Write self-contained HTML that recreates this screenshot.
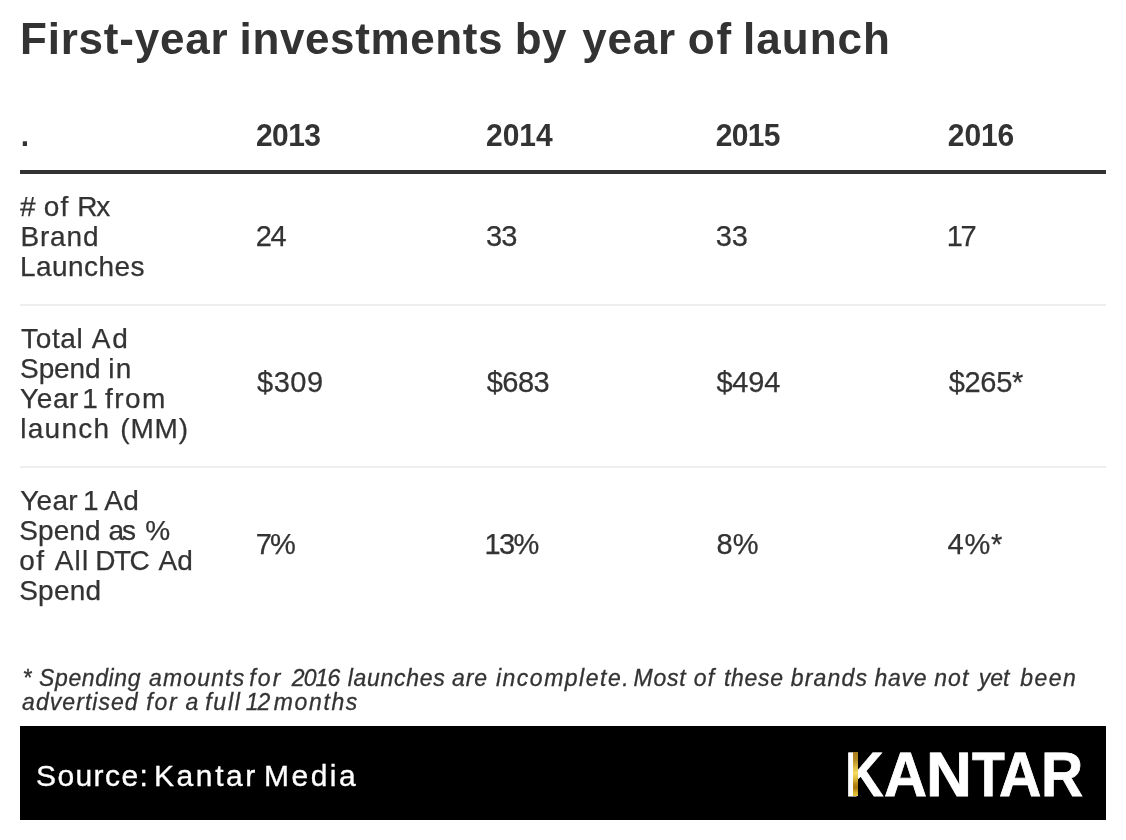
<!DOCTYPE html>
<html lang="en">
<head>
<meta charset="utf-8">
<title>First-year investments by year of launch</title>
<style>
  html, body { margin: 0; padding: 0; background: #fff; }
  body {
    width: 1126px; height: 840px; position: relative; overflow: hidden;
    font-family: "Liberation Sans", sans-serif; color: #333;
  }
  .ln { display: block; position: relative; white-space: nowrap; }
  h1 {
    position: absolute; left: 20px; top: 13px; margin: 0;
    font-size: 44px; line-height: 52px; font-weight: 700; white-space: nowrap;
  }
  table {
    position: absolute; left: 20px; top: 100px; width: 1086px;
    border-collapse: collapse; table-layout: fixed;
    font-size: 29px; line-height: 30px;
  }
  th, td { padding: 0; text-align: left; vertical-align: middle; font-weight: 400; white-space: nowrap; }
  thead th { height: 70px; font-weight: 700; font-size: 30px; border-bottom: 4px solid #333; vertical-align: top; }
  thead th .ln { top: 21px; transform: scaleY(1.07); transform-origin: 0 29px; }
  tbody td { border-bottom: 2px solid #eeeeee; }
  tbody tr:last-child td { border-bottom: 0; }
  tbody tr.r1 td { height: 130px; }
  tbody tr.r2 td { height: 160px; }
  tbody tr.r3 td { height: 160px; }
  tbody td > div { position: relative; top: -3px; -webkit-text-stroke: 0.25px #333; }
  tbody tr.r2 td + td > div, tbody tr.r3 td + td > div { top: -4px; }
  tbody td:first-child > div { font-size: 28px; top: -2px; }
  .c0 { width: 235px; }
  .c1 { width: 230px; }
  .c2 { width: 230px; }
  .c3 { width: 232px; }
  .note {
    position: absolute; left: 20px; top: 666px; width: 1086px; margin: 0;
    font-size: 23px; line-height: 24px; font-style: italic; white-space: nowrap; -webkit-text-stroke: 0.3px #333;
  }
  .footer {
    position: absolute; left: 20px; top: 726px; width: 1086px; height: 94px; background: #000; color: #fff;
  }
  .source { position: absolute; left: 17px; top: 33px; font-size: 30px; line-height: 34px; white-space: nowrap; -webkit-text-stroke: 0.35px #fff; }
  .logo { position: absolute; left: 0; top: 17.5px; width: 1086px; height: 62.8px; font-weight: 700; font-size: 62.8px; line-height: 62.8px; white-space: nowrap; }
  .logo b { position: relative; display: inline-block; width: 50px; height: 62.8px; vertical-align: top; font-weight: 700; transform-origin: 0 10px; text-rendering: geometricPrecision; -webkit-text-stroke: 0.8px #fff; }
  .logo .gold { position: absolute; left: 833.2px; top: 8.5px; width: 4.9px; height: 44px;
    background: linear-gradient(to bottom, #a77c1d 0%, #b78d25 18%, #e4c54a 38%, #f5dd62 48%, #e0bd3f 60%, #b38414 74%, #a9790f 82%, #d9b430 93%, #e6c63c 100%); }
</style>
</head>
<body>
<h1><span class="ln" style="left:0.0px"><span style="letter-spacing:0.78px">First-year</span> <span style="letter-spacing:0.62px;margin-left:-0.99px">investments</span> <span style="letter-spacing:0.54px;margin-left:-0.75px">by</span> <span style="letter-spacing:0.78px;margin-left:2.98px">year</span> <span style="letter-spacing:1.78px;margin-left:-0.49px">of</span> <span style="letter-spacing:1.02px;margin-left:-2.00px">launch</span></span></h1>
<table>
  <colgroup><col class="c0"><col class="c1"><col class="c2"><col class="c3"><col></colgroup>
  <thead>
    <tr><th><span class="ln" style="left:0.8px"><span style="letter-spacing:0.00px">.</span></span></th><th><span class="ln" style="left:1.0px"><span style="letter-spacing:-0.58px">2013</span></span></th><th><span class="ln" style="left:1.0px"><span style="letter-spacing:-0.03px">2014</span></span></th><th><span class="ln" style="left:0.8px"><span style="letter-spacing:-0.66px">2015</span></span></th><th><span class="ln" style="left:0.8px"><span style="letter-spacing:-0.10px">2016</span></span></th></tr>
  </thead>
  <tbody>
    <tr class="r1">
      <td><div><span class="ln" style="left:0.0px"><span style="letter-spacing:0.27px">#</span> <span style="letter-spacing:1.27px">of</span> <span style="letter-spacing:-1.17px">Rx</span></span><span class="ln" style="left:0.4px"><span style="letter-spacing:0.86px">Brand</span></span><span class="ln" style="left:0.0px"><span style="letter-spacing:0.44px">Launches</span></span></div></td>
      <td><div><span class="ln" style="left:0.8px"><span style="letter-spacing:-1.55px">24</span></span></div></td><td><div><span class="ln" style="left:1.0px"><span style="letter-spacing:-1.00px">33</span></span></div></td><td><div><span class="ln" style="left:0.8px"><span style="letter-spacing:-0.19px">33</span></span></div></td><td><div><span class="ln" style="left:-0.2px"><span style="letter-spacing:-2.50px">17</span></span></div></td>
    </tr>
    <tr class="r2">
      <td><div><span class="ln" style="left:1.1px"><span style="letter-spacing:0.64px">Total</span> <span style="letter-spacing:1.80px;margin-left:0.50px">Ad</span></span><span class="ln" style="left:0.1px"><span style="letter-spacing:-0.14px">Spend</span> <span style="letter-spacing:1.46px">in</span></span><span class="ln" style="left:0.1px"><span style="letter-spacing:0.56px">Year</span> <span style="letter-spacing:0.43px;margin-left:-4.52px">1</span> <span style="letter-spacing:1.43px;margin-left:-1.00px">from</span></span><span class="ln" style="left:0.2px"><span style="letter-spacing:1.28px">launch</span> <span style="letter-spacing:0.88px;margin-left:2.01px">(MM)</span></span></div></td>
      <td><div><span class="ln" style="left:2.0px"><span style="letter-spacing:0.54px">$309</span></span></div></td><td><div><span class="ln" style="left:1.8px"><span style="letter-spacing:-0.57px">$683</span></span></div></td><td><div><span class="ln" style="left:1.4px"><span style="letter-spacing:-0.16px">$494</span></span></div></td><td><div><span class="ln" style="left:1.8px"><span style="letter-spacing:-0.35px">$265*</span></span></div></td>
    </tr>
    <tr class="r3">
      <td><div><span class="ln" style="left:0.2px"><span style="letter-spacing:0.27px">Year</span> <span style="letter-spacing:-0.53px;margin-left:-2.71px">1</span> <span style="letter-spacing:0.27px;margin-left:-1.50px">Ad</span></span><span class="ln" style="left:-0.8px"><span style="letter-spacing:0.09px">Spend</span> <span style="letter-spacing:-2.01px">as</span> <span style="letter-spacing:-0.01px;margin-left:3.50px">%</span></span><span class="ln" style="left:-0.8px"><span style="letter-spacing:1.49px">of</span> <span style="letter-spacing:1.09px;margin-left:1.50px">All</span> <span style="letter-spacing:-1.47px;margin-left:-1.80px">DTC</span> <span style="letter-spacing:0.01px;margin-left:2.38px">Ad</span></span><span class="ln" style="left:-0.8px"><span style="letter-spacing:0.23px">Spend</span></span></div></td>
      <td><div><span class="ln" style="left:0.8px"><span style="letter-spacing:-1.99px">7%</span></span></div></td><td><div><span class="ln" style="left:-0.4px"><span style="letter-spacing:-1.71px">13%</span></span></div></td><td><div><span class="ln" style="left:1.4px"><span style="letter-spacing:0.31px">8%</span></span></div></td><td><div><span class="ln" style="left:0.6px"><span style="letter-spacing:0.69px">4%*</span></span></div></td>
    </tr>
  </tbody>
</table>
<p class="note"><span class="ln" style="left:2.6px"><span style="letter-spacing:1.10px">*</span> <span style="letter-spacing:0.60px">Spending</span> <span style="letter-spacing:1.17px;margin-left:1.51px">amounts</span> <span style="letter-spacing:2.10px;margin-left:-2.47px">for</span> <span style="letter-spacing:-0.90px;margin-left:3.00px">2016</span> <span style="letter-spacing:0.70px;margin-left:2.00px">launches</span> <span style="letter-spacing:0.90px;margin-left:0.20px">are</span> <span style="letter-spacing:1.50px;margin-left:1.60px">incomplete.</span> <span style="letter-spacing:0.70px;margin-left:-2.90px">Most</span> <span style="letter-spacing:1.10px;margin-left:1.10px">of</span> <span style="letter-spacing:0.70px;margin-left:2.50px">these</span> <span style="letter-spacing:1.18px;margin-left:0.50px">brands</span> <span style="letter-spacing:0.70px;margin-left:0.02px">have</span> <span style="letter-spacing:1.10px;margin-left:0.60px">not</span> <span style="letter-spacing:-0.02px;margin-left:3.00px">yet</span> <span style="letter-spacing:1.50px;margin-left:4.36px">been</span></span><span class="ln" style="left:2.1px"><span style="letter-spacing:1.05px">advertised</span> <span style="letter-spacing:1.89px;margin-left:1.02px">for</span> <span style="letter-spacing:1.05px;margin-left:0.48px">a</span> <span style="letter-spacing:1.75px;margin-left:-0.50px">full</span> <span style="letter-spacing:-0.95px;margin-left:-2.27px">12</span> <span style="letter-spacing:1.61px;margin-left:-2.00px">months</span></span></p>
<div class="footer">
  <div class="source"><span class="ln" style="left:-1.0px"><span style="letter-spacing:1.41px">Source:</span> <span style="letter-spacing:2.60px;margin-left:-3.67px">Kantar</span> <span style="letter-spacing:2.44px;margin-left:-2.20px">Media</span></span></div>
  <div class="logo" aria-label="KANTAR"><b style="left:824.67px;transform:scale(0.8485,1)">K</b><b style="left:814.30px;transform:scale(0.9480,1)">A</b><b style="left:806.15px;transform:scale(1.0127,1)">N</b><b style="left:802.14px;transform:scale(0.8549,1)">T</b><b style="left:779.01px;transform:scale(0.9340,1)">A</b><b style="left:770.57px;transform:scale(0.9296,1)">R</b><i class="gold"></i></div>
</div>
</body>
</html>
